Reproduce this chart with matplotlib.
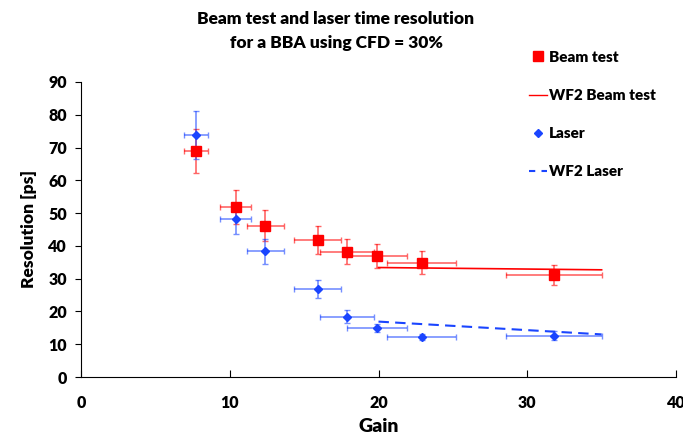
import matplotlib.pyplot as plt
from matplotlib.lines import Line2D

plt.rcParams['font.family'] = ['Lato', 'DejaVu Sans']
plt.rcParams['font.weight'] = 'heavy'

# beam test
gain_beam = [7.75, 10.4, 12.4, 15.9, 17.9, 19.9, 22.9, 31.8]
res_beam = [69.0, 51.8, 46.2, 41.8, 38.2, 36.9, 34.9, 31.2]
yerr_beam = [6.8, 5.2, 4.7, 4.2, 3.8, 3.7, 3.4, 3.1]
xerr_beam = [0.8, 1.04, 1.25, 1.6, 1.8, 2.0, 2.3, 3.2]

# laser
gain_laser = [7.75, 10.4, 12.4, 15.9, 17.9, 19.9, 22.9, 31.8]
res_laser = [73.8, 48.3, 38.3, 26.8, 18.4, 15.0, 12.2, 12.6]
yerr_laser = [7.4, 4.7, 3.9, 2.7, 1.9, 1.2, 0.8, 1.3]
xerr_laser = [0.8, 1.04, 1.25, 1.6, 1.8, 2.0, 2.3, 3.2]

# WF2 simulation
gain_wf2 = [20, 35]
res_wf2_beam = [33.4, 32.7]
res_wf2_laser = [16.9, 13.0]

red = '#ff0000'
blue = '#1a45ff'

fig = plt.figure(figsize=(6.83, 4.41), dpi=100)
ax = fig.add_axes([81/683, 1-377/441, (676-81)/683, (377-82)/441])

ax.plot(gain_wf2, res_wf2_beam, color=red, lw=1.2)
ax.plot(gain_wf2, res_wf2_laser, color=blue, lw=1.5, ls=(0, (5, 3)))

ax.errorbar(gain_beam, res_beam, yerr=yerr_beam, xerr=xerr_beam, fmt='none',
            ecolor=red, elinewidth=1.2, capsize=2, alpha=0.6)
ax.errorbar(gain_laser, res_laser, yerr=yerr_laser, xerr=xerr_laser, fmt='none',
            ecolor=blue, elinewidth=1.2, capsize=2, alpha=0.6)
ax.plot(gain_beam, res_beam, 's', color=red, ms=7, ls='none')
ax.plot(gain_laser, res_laser, 'D', color=blue, ms=4, ls='none')

ax.set_xlim(0, 40)
ax.set_ylim(0, 90)
ax.set_xticks(range(0, 41, 10))
ax.set_yticks(range(0, 91, 10))
ax.spines['top'].set_visible(False)
ax.spines['right'].set_visible(False)
ax.tick_params(axis='x', direction='in', length=5, labelsize=11.5, pad=13)
ax.tick_params(axis='y', direction='out', length=4, labelsize=11.5, pad=6)
for lab in ax.get_xticklabels() + ax.get_yticklabels():
    lab.set_fontweight('heavy')

ax.set_xlabel('Gain', fontsize=14, fontweight='heavy', labelpad=5)
ax.set_ylabel('Resolution [ps]', fontsize=12.5, fontweight='heavy', labelpad=8)

fig.text(336/683, 1-31/441, 'Beam test and laser time resolution\nfor a BBA using CFD = 30%',
         ha='center', va='center', fontsize=12.5, fontweight='heavy', linespacing=1.6)

handles = [
    Line2D([], [], marker='s', color=red, ls='none', ms=7),
    Line2D([], [], color=red, lw=1),
    Line2D([], [], marker='D', color=blue, ls='none', ms=4),
    Line2D([], [], color=blue, lw=1.5, ls=(0, (3, 3))),
]
labels = ['Beam test', 'WF2 Beam test', 'Laser', 'WF2 Laser']
fig.legend(handles, labels, loc='upper left', bbox_to_anchor=(515/683, 1-37/441),
           frameon=False, labelspacing=1.65, handlelength=1.2, handletextpad=0.15,
           prop={'weight': 'heavy', 'size': 11})

fig.savefig('out.png', dpi=100)
